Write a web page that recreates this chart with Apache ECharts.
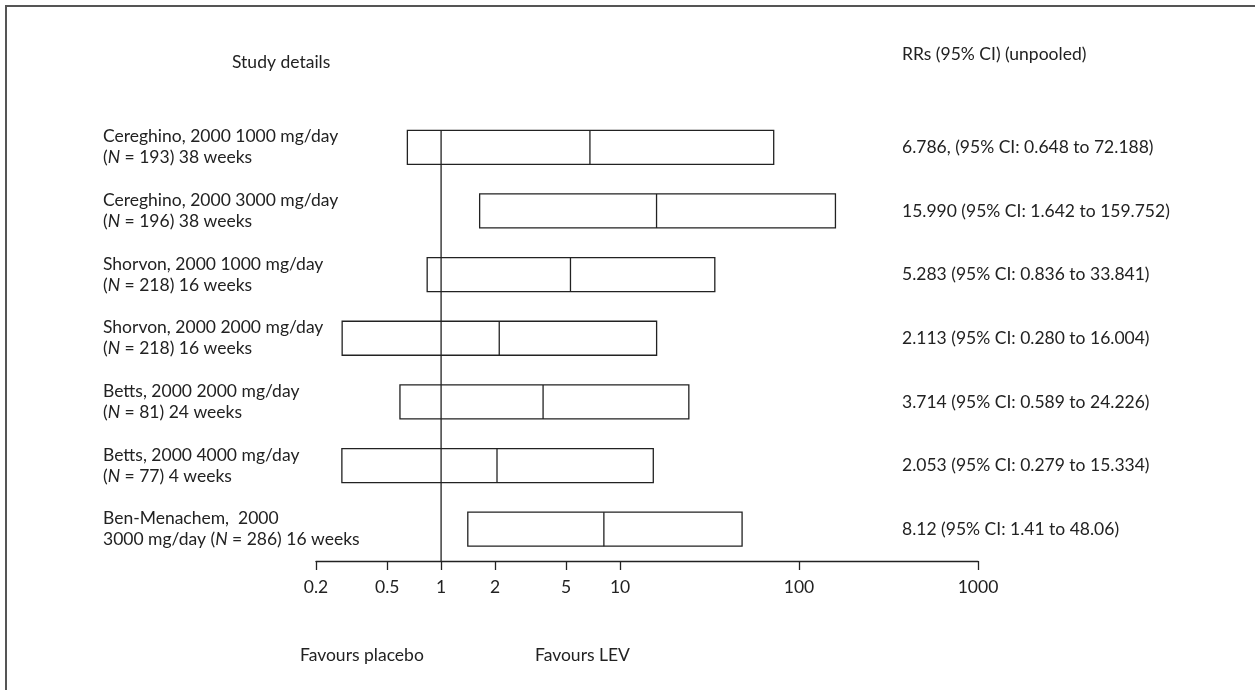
<!DOCTYPE html>
<html>
<head>
<meta charset="utf-8">
<script src="https://cdn.jsdelivr.net/npm/echarts@6/dist/echarts.min.js"></script>
<style>
  html, body { margin: 0; padding: 0; background: #fff; }
  #chart { width: 1255px; height: 690px; }
</style>
</head>
<body>
<div id="chart"></div>
<script>
// Study rows, top to bottom
const studyTitles = [
  'Cereghino, 2000 1000 mg/day',
  'Cereghino, 2000 3000 mg/day',
  'Shorvon, 2000 1000 mg/day',
  'Shorvon, 2000 2000 mg/day',
  'Betts, 2000 2000 mg/day',
  'Betts, 2000 4000 mg/day',
  'Ben-Menachem,  2000'
];
const studyNotes = [
  '(N = 193) 38 weeks',
  '(N = 196) 38 weeks',
  '(N = 218) 16 weeks',
  '(N = 218) 16 weeks',
  '(N = 81) 24 weeks',
  '(N = 77) 4 weeks',
  '3000 mg/day (N = 286) 16 weeks'
];
// Relative risks with 95% confidence limits
const estimates = [6.786, 15.990, 5.283, 2.113, 3.714, 2.053, 8.12];
const lowerCI   = [0.648, 1.642, 0.836, 0.280, 0.589, 0.279, 1.41];
const upperCI   = [72.188, 159.752, 33.841, 16.004, 24.226, 15.334, 48.06];
const rrLabels = [
  '6.786, (95% CI: 0.648 to 72.188)',
  '15.990 (95% CI: 1.642 to 159.752)',
  '5.283 (95% CI: 0.836 to 33.841)',
  '2.113 (95% CI: 0.280 to 16.004)',
  '3.714 (95% CI: 0.589 to 24.226)',
  '2.053 (95% CI: 0.279 to 15.334)',
  '8.12 (95% CI: 1.41 to 48.06)'
];
const tickValues = [0.2, 0.5, 1, 2, 5, 10, 100, 1000];
const nullValue = 1;

const FONT = 'Lato';
const FS = 17.5;
const INK = '#222';
const BOX_H = 34;

const rowKeys = studyTitles.map((_, i) => String(i));
const boxData = estimates.map((e, i) => [lowerCI[i], upperCI[i], e, i]);

const chart = echarts.init(document.getElementById('chart'), null, { renderer: 'canvas' });

chart.setOption({
  animation: false,
  backgroundColor: '#fff',
  textStyle: { fontFamily: FONT, color: INK },
  grid: { left: 316, right: 277, top: 115.5, height: 445.5 },
  xAxis: {
    type: 'log',
    logBase: 10,
    min: 0.2,
    max: 1000,
    splitLine: { show: false },
    axisLine: { show: true, lineStyle: { color: INK, width: 1.3 } },
    axisTick: { show: true, customValues: tickValues, length: 9, lineStyle: { color: INK, width: 1.3 } },
    axisLabel: {
      customValues: tickValues,
      margin: 17,
      fontSize: FS,
      fontFamily: FONT,
      color: INK,
      formatter: v => String(+(+v).toPrecision(3))
    }
  },
  yAxis: [
    {
      type: 'category',
      data: rowKeys,
      inverse: true,
      position: 'left',
      axisLine: { show: false },
      axisTick: { show: false },
      splitLine: { show: false },
      axisLabel: {
        align: 'left',
        margin: 213,
        fontSize: FS,
        fontFamily: FONT,
        color: INK,
        lineHeight: 21,
        formatter: (v, i) => studyTitles[i] + '\n' + studyNotes[i].replace('(N ', '({it|N} '),
        rich: {
          it: { fontStyle: 'italic', fontSize: FS, fontFamily: FONT, color: INK, lineHeight: 21 }
        }
      }
    },
    {
      type: 'category',
      data: rowKeys,
      inverse: true,
      position: 'right',
      offset: -76,
      axisLine: { show: false },
      axisTick: { show: false },
      splitLine: { show: false },
      axisLabel: {
        align: 'left',
        margin: 0,
        fontSize: FS,
        fontFamily: FONT,
        color: INK,
        formatter: (v, i) => rrLabels[i]
      }
    }
  ],
  series: [
    {
      name: 'RR boxes',
      type: 'custom',
      data: boxData,
      encode: { x: [0, 1, 2], y: 3 },
      renderItem: (params, api) => {
        const row = api.value(3);
        const a = api.coord([api.value(0), row]);
        const b = api.coord([api.value(1), row]);
        const e = api.coord([api.value(2), row]);
        const y0 = a[1] - BOX_H / 2;
        return {
          type: 'group',
          children: [
            { type: 'rect', shape: { x: a[0], y: y0, width: b[0] - a[0], height: BOX_H },
              style: { fill: 'none', stroke: INK, lineWidth: 1.3 } },
            { type: 'line', shape: { x1: e[0], y1: y0, x2: e[0], y2: y0 + BOX_H },
              style: { stroke: INK, lineWidth: 1.3 } }
          ]
        };
      },
      z: 2
    },
    {
      name: 'No effect',
      type: 'custom',
      data: [[nullValue, 0]],
      encode: { x: 0, y: 1 },
      renderItem: (params, api) => {
        const p = api.coord([api.value(0), api.value(1)]);
        const bottom = params.coordSys.y + params.coordSys.height;
        return {
          type: 'line',
          shape: { x1: p[0], y1: p[1] - BOX_H / 2, x2: p[0], y2: bottom },
          style: { stroke: INK, lineWidth: 1.3 }
        };
      },
      z: 3
    }
  ],
  graphic: [
    { type: 'polyline', shape: { points: [[6, 690], [6, 6], [1255, 6]] },
      style: { stroke: '#555', lineWidth: 2, fill: 'none' } },
    { type: 'text', left: 232, top: 53,
      style: { text: 'Study details', font: FS + 'px ' + FONT, fill: INK } },
    { type: 'text', left: 902, top: 45,
      style: { text: 'RRs (95% CI) (unpooled)', font: FS + 'px ' + FONT, fill: INK } },
    { type: 'text', left: 300, top: 646,
      style: { text: 'Favours placebo', font: FS + 'px ' + FONT, fill: INK } },
    { type: 'text', left: 535, top: 646,
      style: { text: 'Favours LEV', font: FS + 'px ' + FONT, fill: INK } }
  ]
});
</script>
</body>
</html>
